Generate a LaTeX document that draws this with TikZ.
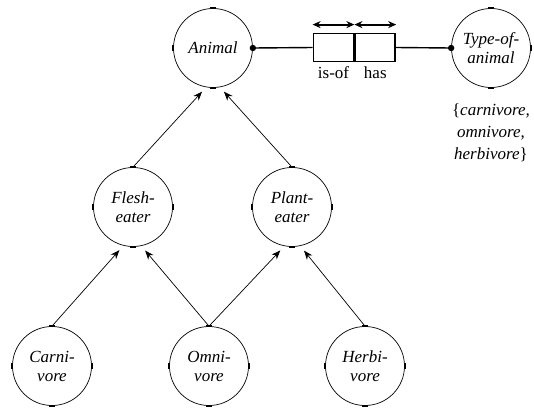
\documentclass[tikz,border=0pt]{standalone}
\usepackage{fontspec}
\setmainfont{Liberation Serif}
\newfontfamily\tms{Liberation Serif}
\usetikzlibrary{arrows.meta,calc}
\begin{document}
\begin{tikzpicture}[x=1pt,y=-1pt,
  ent/.style={circle,draw,line width=0.7pt,minimum size=79pt,inner sep=0pt,align=center,
    font=\tms\fontsize{17}{19}\selectfont\itshape},
  arr/.style={-{Stealth[length=9pt,width=7pt]},line width=0.7pt,shorten >=6pt},
  cell/.style={draw,line width=1.8pt,minimum width=40pt,minimum height=28pt,inner sep=0pt},
  lbl/.style={font=\tms\fontsize{17}{19}\selectfont},
  tick/.style={line width=2.2pt}
]
\useasboundingbox (0,0) rectangle (534,407);

\node[ent] (animal) at (213,48) {Animal};
\node[ent] (type) at (491,48) {Type-of-\\animal};
\node[ent] (flesh) at (133,207) {Flesh-\\eater};
\node[ent] (plant) at (292,207) {Plant-\\eater};
\node[ent] (carni) at (52,366) {Carni-\\vore};
\node[ent] (omni) at (209,366) {Omni-\\vore};
\node[ent] (herbi) at (365,366) {Herbi-\\vore};

\foreach \n in {animal,type,flesh,plant,carni,omni,herbi}{
  \draw[tick] ($(\n.north)+(-3,0)$) -- ++(6,0);
  \draw[tick] ($(\n.south)+(-3,0)$) -- ++(6,0);
  \draw[tick] ($(\n.east)+(0,-3)$) -- ++(0,6);
  \draw[tick] ($(\n.west)+(0,-3)$) -- ++(0,6);
}

\draw[arr] (carni.north) -- (flesh.256);
\draw[arr] (omni.north) -- (flesh.282);
\draw[arr] (omni.north) -- (plant.259);
\draw[arr] (herbi.north) -- (plant.282);
\draw[arr] (flesh.north) -- (animal.260);
\draw[arr] (plant.north) -- (animal.280);

\node[cell] (isof) at (333.5,47.5) {};
\node[cell,anchor=west] (has) at (isof.east) {};
\node[lbl,below=1pt] (isoflbl) at (isof.south) {is-of};
\node[lbl,below=1pt] (haslbl) at (has.south) {has};

\draw[line width=1.4pt] (animal.east) -- (isof.west);
\draw[line width=1.4pt] (has.east) -- (type.west);
\fill (animal.east) circle (3.2pt);
\fill (type.west) circle (3.2pt);

\coordinate (a1) at ($(isof.north west)+(0,-8)$);
\coordinate (a2) at ($(isof.north east)+(0,-8)$);
\coordinate (a3) at ($(has.north east)+(0,-8)$);
\draw[{Stealth[length=8pt,width=7pt]}-{Stealth[length=8pt,width=7pt]},line width=2pt] (a1) -- (a2);
\draw[{Stealth[length=8pt,width=7pt]}-{Stealth[length=8pt,width=7pt]},line width=2pt] (a2) -- (a3);

\node[lbl,align=center,font=\tms\fontsize{17}{22}\selectfont] (vals) at (491,133)
  {\{\textit{carnivore,}\\\textit{omnivore,}\\\textit{herbivore}\}};
\end{tikzpicture}
\end{document}
